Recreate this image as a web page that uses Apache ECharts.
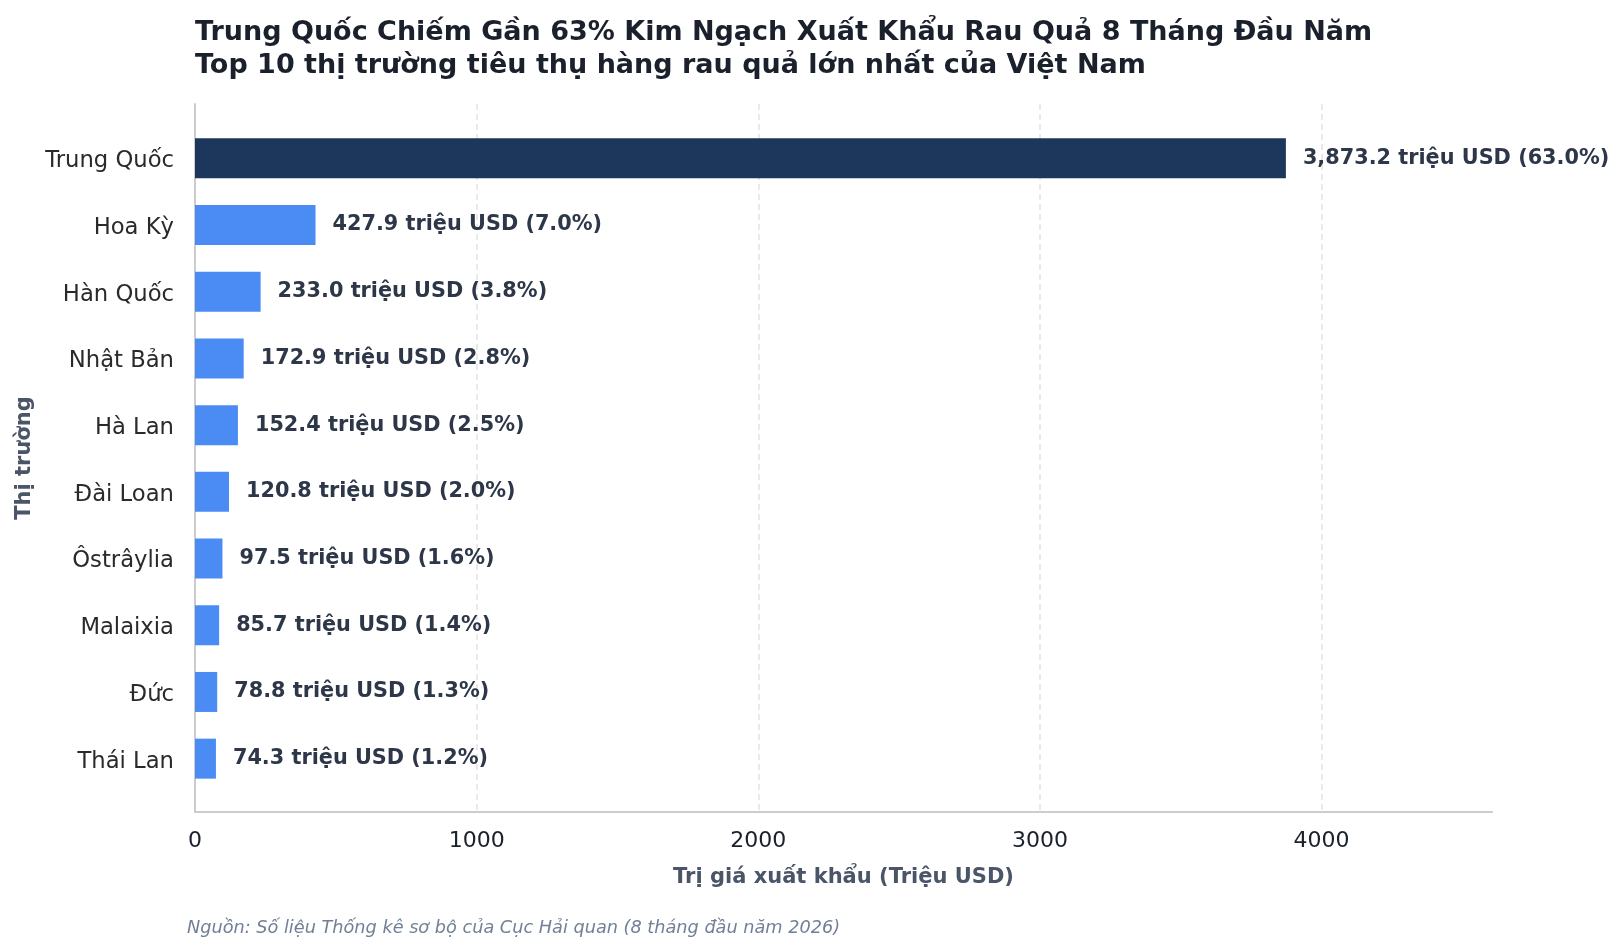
<!DOCTYPE html>
<html>
<head>
<meta charset="utf-8">
<script src="https://cdn.jsdelivr.net/npm/echarts@6.0.0/dist/echarts.min.js"></script>
<style>
html,body{margin:0;padding:0;background:#fff;}
#chart{width:1623px;height:951px;}
</style>
</head>
<body>
<div id="chart"></div>
<script>
const categories = ["Trung Quốc","Hoa Kỳ","Hàn Quốc","Nhật Bản","Hà Lan","Đài Loan","Ôstrâylia","Malaixia","Đức","Thái Lan"];
const values = [3873.2, 427.9, 233.0, 172.9, 152.4, 120.8, 97.5, 85.7, 78.8, 74.3];
const shares = [63.0, 7.0, 3.8, 2.8, 2.5, 2.0, 1.6, 1.4, 1.3, 1.2];
const xTicks = [0, 1000, 2000, 3000, 4000];

const FONT = "DejaVu Sans";
const XMAX = 4605;

function fmt(v){
  return v.toLocaleString('en-US',{minimumFractionDigits:1,maximumFractionDigits:1});
}

const chart = echarts.init(document.getElementById('chart'), null, {renderer:'canvas'});
chart.setOption({
  backgroundColor:'#ffffff',
  animation:false,
  textStyle:{fontFamily:FONT},
  title:[{
    text:"Trung Quốc Chiếm Gần 63% Kim Ngạch Xuất Khẩu Rau Quả 8 Tháng Đầu Năm\nTop 10 thị trường tiêu thụ hàng rau quả lớn nhất của Việt Nam",
    left:195, top:16, padding:0,
    textStyle:{fontFamily:FONT,fontSize:27,fontWeight:'bold',color:'#1a202c',lineHeight:33.5}
  },{
    text:"Nguồn: Số liệu Thống kê sơ bộ của Cục Hải quan (8 tháng đầu năm 2026)",
    left:187, top:918, padding:0,
    textStyle:{fontFamily:FONT,fontSize:17.7,fontStyle:'italic',fontWeight:'normal',color:'#718096',lineHeight:20}
  }],
  grid:[
    {left:195, right:131, top:125, height:667, containLabel:false},
    {left:195, right:131, top:104, bottom:139, containLabel:false}
  ],
  xAxis:[{
    gridIndex:0, type:'value', min:0, max:XMAX, show:false
  },{
    gridIndex:1, type:'value', min:0, max:XMAX, interval:1000,
    axisLine:{show:true, lineStyle:{color:'#cccccc', width:2}},
    axisTick:{show:false},
    axisLabel:{fontFamily:FONT,fontSize:22,color:'#1a202c',margin:18,
      formatter:function(v){ return xTicks.indexOf(v) >= 0 ? String(v) : ''; }},
    splitLine:{show:true, showMinLine:false, showMaxLine:false, lineStyle:{color:'#e2e2e2', width:1.5, type:[6,4]}},
    name:"Trị giá xuất khẩu (Triệu USD)", nameLocation:'middle', nameGap:55,
    nameTextStyle:{fontFamily:FONT,fontSize:21,fontWeight:'bold',color:'#4a5568'}
  }],
  yAxis:[{
    gridIndex:0, type:'category', data:categories, inverse:true,
    axisLine:{show:false}, axisTick:{show:false}, splitLine:{show:false},
    axisLabel:{margin:21,
      formatter:function(v){ return '{c|' + v + '}'; },
      rich:{c:{fontFamily:FONT,fontSize:22.7,color:'#2a2a2a',padding:[6,0,0,0]}}}
  },{
    gridIndex:1, type:'value', min:0, max:1,
    axisLine:{show:true, lineStyle:{color:'#cccccc', width:2}},
    axisTick:{show:false}, axisLabel:{show:false}, splitLine:{show:false},
    name:"Thị trường", nameLocation:'middle', nameRotate:90, nameGap:160,
    nameTextStyle:{fontFamily:FONT,fontSize:21,fontWeight:'bold',color:'#4a5568'}
  }],
  series:[{
    type:'bar', xAxisIndex:0, yAxisIndex:0,
    data:values, barWidth:40,
    itemStyle:{color:function(p){ return p.dataIndex===0 ? '#1c365c' : '#4b8bf4'; }},
    label:{show:true, position:'right', distance:17,
      fontFamily:FONT, fontSize:20.8, fontWeight:'bold', color:'#2d3748',
      formatter:function(p){ return fmt(values[p.dataIndex]) + ' triệu USD (' + shares[p.dataIndex].toFixed(1) + '%)'; }}
  }]
});
</script>
</body>
</html>
